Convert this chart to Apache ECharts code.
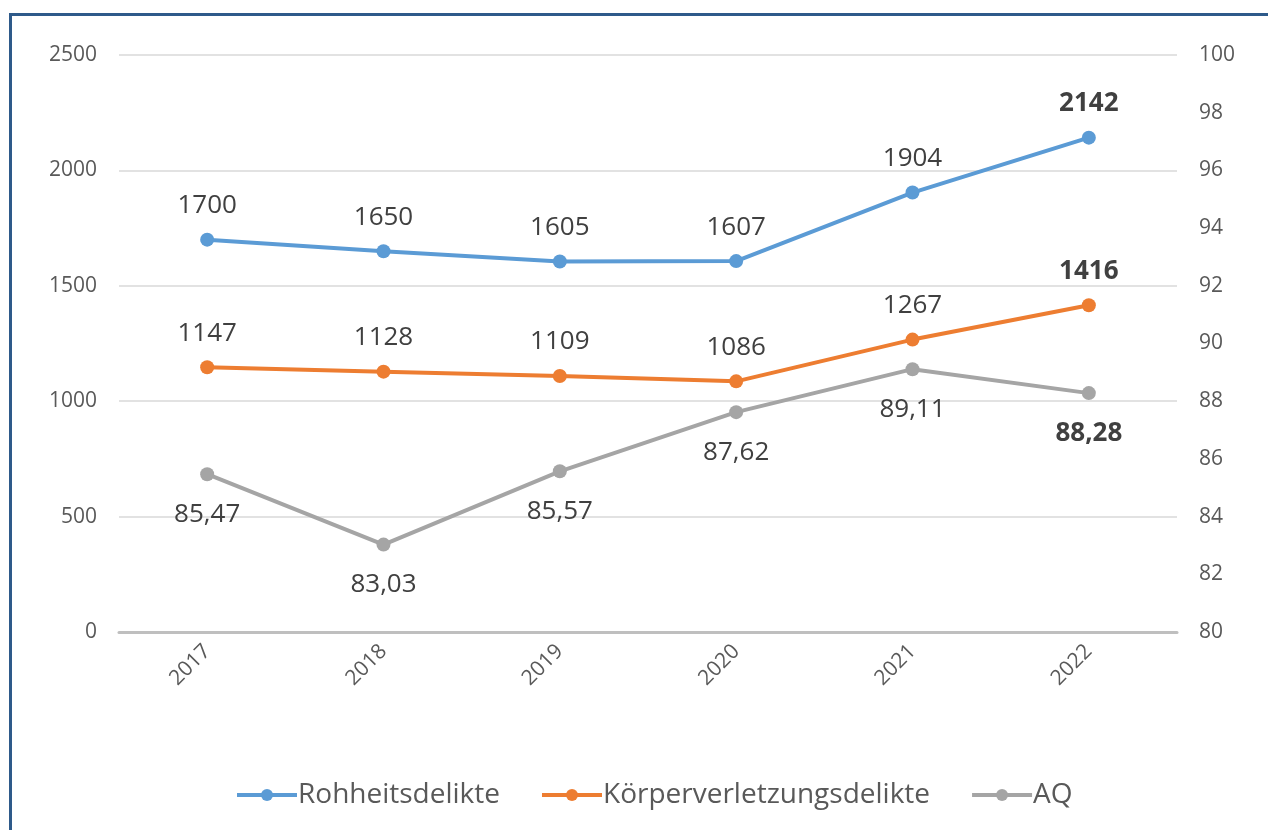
<!DOCTYPE html>
<html>
<head>
<meta charset="utf-8">
<script src="https://cdn.jsdelivr.net/npm/echarts@6/dist/echarts.min.js"></script>
<style>
  html, body { margin: 0; padding: 0; background: #fff; }
  #frame {
    position: absolute; left: 9px; top: 13px; right: 0; bottom: 0;
    border-left: 3px solid #2e5a8a; border-top: 3px solid #2e5a8a;
  }
  #chart { position: absolute; left: 0; top: 0; width: 1268px; height: 830px; }
</style>
</head>
<body>
<div id="frame"></div>
<div id="chart"></div>
<script>
  // Daten
  const years = ['2017', '2018', '2019', '2020', '2021', '2022'];
  const rohheit = [1700, 1650, 1605, 1607, 1904, 2142];
  const koerper = [1147, 1128, 1109, 1086, 1267, 1416];
  const aq = [85.47, 83.03, 85.57, 87.62, 89.11, 88.28];

  const TEXT = '#595959';
  const LABEL = '#404040';

  // letzter Wert fett
  function withBoldLast(arr) {
    return arr.map(function (v, i) {
      return i === arr.length - 1 ? { value: v, label: { fontWeight: 'bold' } } : v;
    });
  }

  function lineSeries(name, data, color, yIndex, pos, dist, fmt) {
    return {
      name: name,
      type: 'line',
      yAxisIndex: yIndex,
      data: withBoldLast(data),
      symbol: 'circle',
      symbolSize: 14,
      lineStyle: { color: color, width: 4 },
      itemStyle: { color: color },
      label: {
        show: true,
        position: pos,
        distance: dist,
        color: LABEL,
        fontSize: 26,
        fontFamily: 'Open Sans',
        formatter: fmt
      }
    };
  }

  const chart = echarts.init(document.getElementById('chart'));
  chart.setOption({
    animation: false,
    textStyle: { fontFamily: 'Open Sans' },
    grid: { left: 119, right: 91, top: 55, bottom: 198, containLabel: false },
    legend: {
      bottom: 16,
      left: 230,
      itemWidth: 60,
      itemHeight: 15,
      itemGap: 40,
      lineStyle: { width: 4 },
      textStyle: { color: TEXT, fontSize: 28, fontFamily: 'Open Sans', padding: [0, 0, 0, -4] },
      data: ['Rohheitsdelikte', 'Körperverletzungsdelikte', 'AQ']
    },
    xAxis: {
      type: 'category',
      data: years,
      boundaryGap: true,
      axisLine: { lineStyle: { color: '#bfbfbf', width: 3 } },
      axisTick: { show: false },
      axisLabel: { color: TEXT, fontSize: 21, rotate: 45, margin: 16 }
    },
    yAxis: [
      {
        type: 'value', min: 0, max: 2500, interval: 500,
        axisLine: { show: false }, axisTick: { show: false },
        axisLabel: { color: TEXT, fontSize: 21, margin: 22, formatter: function (v) { return String(v); } },
        splitLine: { lineStyle: { color: '#d9d9d9', width: 1.5 } }
      },
      {
        type: 'value', min: 80, max: 100, interval: 2,
        axisLine: { show: false }, axisTick: { show: false },
        axisLabel: { color: TEXT, fontSize: 21, margin: 22 },
        splitLine: { show: false }
      }
    ],
    series: [
      lineSeries('Rohheitsdelikte', rohheit, '#5b9bd5', 0, 'top', 14),
      lineSeries('Körperverletzungsdelikte', koerper, '#ed7d31', 0, 'top', 14),
      lineSeries('AQ', aq, '#a5a5a5', 1, 'bottom', 20, function (p) {
        return String(p.value).replace('.', ',');
      })
    ]
  });
</script>
</body>
</html>
